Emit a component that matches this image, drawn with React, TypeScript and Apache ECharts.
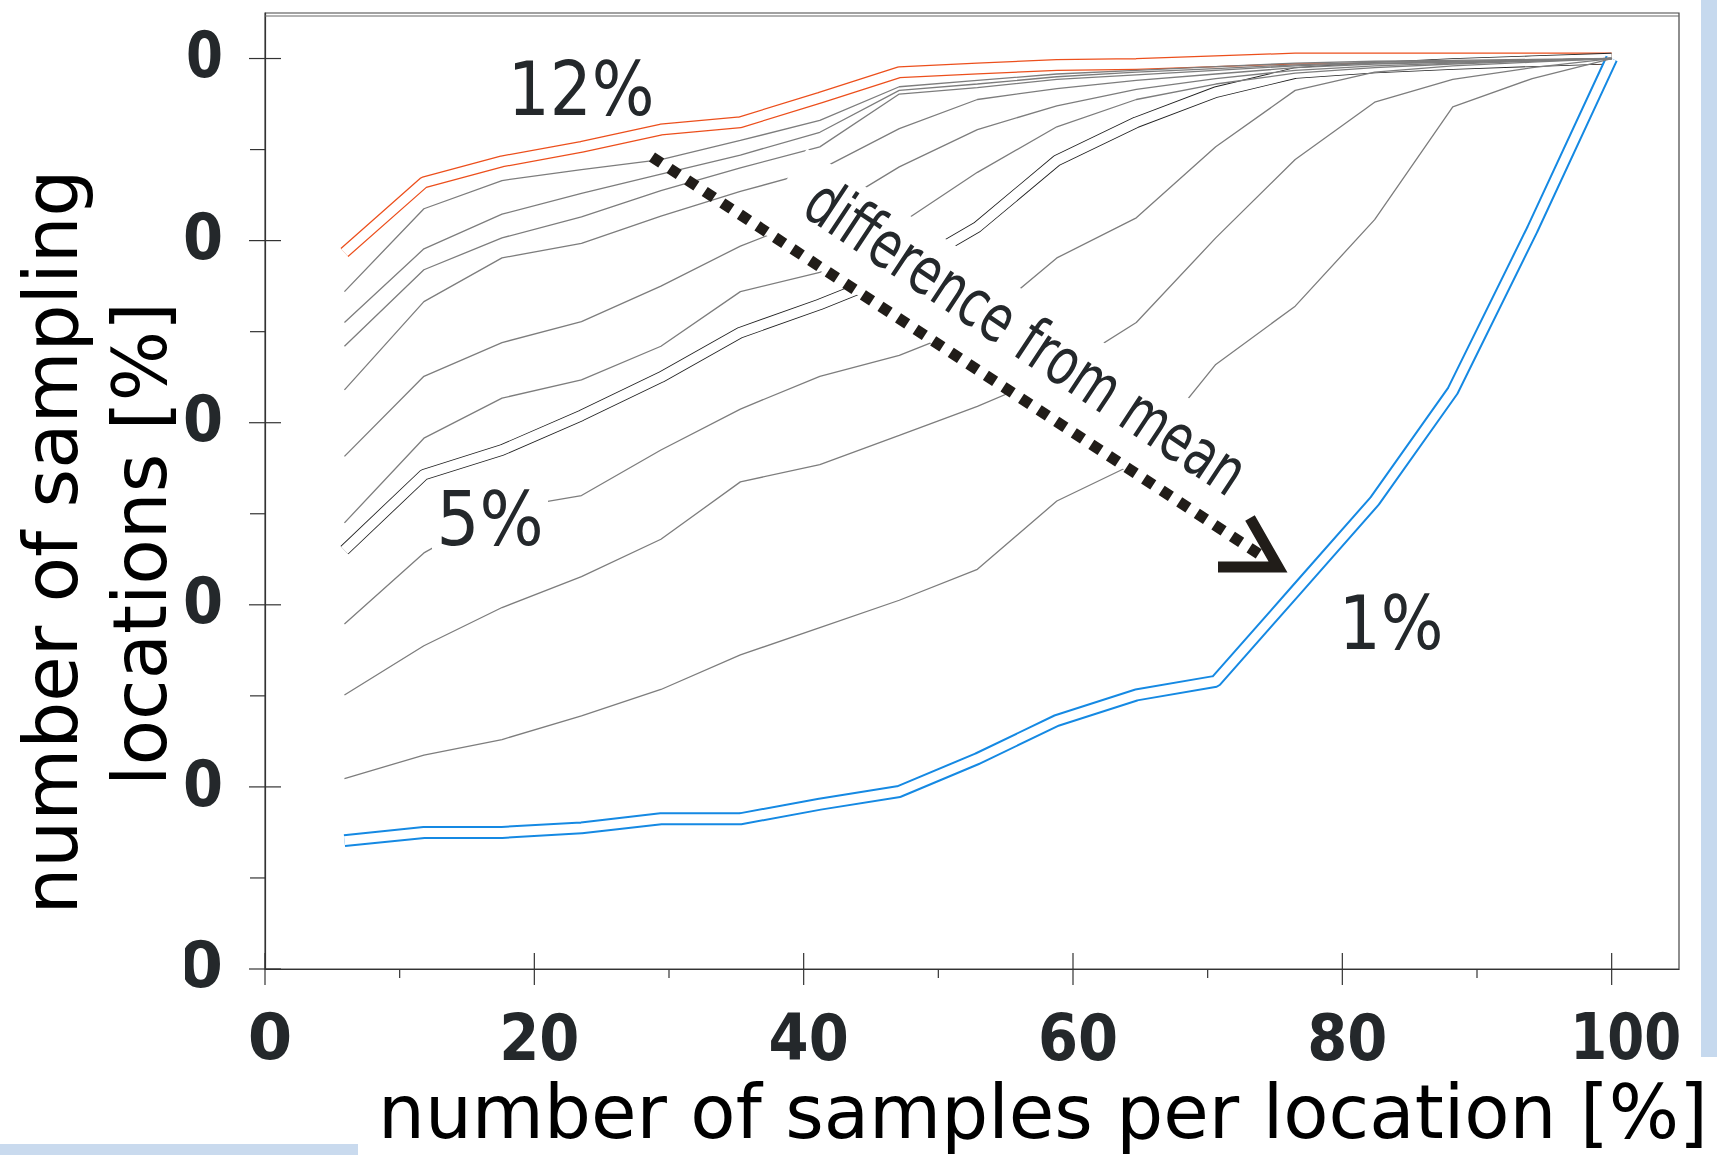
import React, { useEffect, useRef } from 'react';
import * as echarts from 'echarts';

// x: number of samples per location [%]
const sampleShare = [5.9, 11.8, 17.6, 23.5, 29.4, 35.3, 41.2, 47.1, 52.9, 58.8, 64.7, 70.6, 76.5, 82.4, 88.2, 94.1, 100];

// y: number of sampling locations [%], one curve per difference from mean
const curve12 = [78.7, 86.4, 88.7, 90.3, 92.2, 93.0, 95.7, 98.5, 98.9, 99.3, 99.4, 99.7, 100, 100, 100, 100, 100];
const curve11 = [74.4, 83.5, 86.6, 87.8, 88.9, 91.0, 93.2, 96.9, 97.6, 98.3, 98.7, 99.1, 99.5, 99.7, 99.8, 99.9, 100];
const curve10 = [71.0, 79.1, 82.9, 85.2, 87.3, 89.4, 91.9, 96.5, 97.2, 98.0, 98.5, 98.9, 99.3, 99.6, 99.7, 99.8, 100];
const curve9 = [68.4, 76.8, 80.3, 82.6, 85.5, 88.0, 90.3, 96.1, 96.8, 97.7, 98.2, 98.7, 99.2, 99.5, 99.6, 99.8, 100];
const curve8 = [63.6, 73.3, 78.1, 79.7, 82.7, 85.4, 87.8, 92.3, 95.5, 96.7, 97.6, 98.3, 99.0, 99.4, 99.6, 99.8, 100];
const curve7 = [56.3, 65.1, 68.8, 71.1, 75.0, 79.4, 82.8, 88.1, 92.2, 94.8, 96.6, 97.8, 98.7, 99.2, 99.5, 99.8, 100];
const curve6 = [49.0, 58.3, 62.7, 64.7, 68.4, 74.4, 76.5, 81.8, 87.5, 92.5, 95.5, 97.2, 98.4, 99.0, 99.4, 99.7, 100];
const curve5 = [46.0, 54.3, 57.0, 60.8, 65.0, 69.9, 73.0, 76.5, 81.5, 88.8, 93.0, 96.3, 98.4, 99.0, 99.4, 99.7, 100];
const curve4 = [37.9, 45.7, 50.5, 52.0, 57.0, 61.5, 65.1, 67.4, 70.8, 78.1, 82.5, 90.3, 96.5, 98.5, 99.2, 99.6, 100];
const curve3 = [30.1, 35.5, 39.7, 43.1, 47.2, 53.5, 55.4, 58.6, 61.8, 65.5, 71.0, 80.3, 88.9, 95.2, 97.7, 99.0, 100];
const curve2 = [20.9, 23.5, 25.2, 27.8, 30.7, 34.5, 37.5, 40.5, 43.9, 51.4, 55.6, 66.4, 72.8, 82.3, 94.7, 97.8, 100];
const curve1 = [14.1, 15.0, 15.0, 15.5, 16.5, 16.5, 18.1, 19.5, 23.1, 27.3, 30.1, 31.6, 41.5, 51.4, 63.5, 81.2, 100];

const grayCurves = [curve11, curve10, curve9, curve8, curve7, curve6, curve4, curve3, curve2];

const xTickValues = [0, 20, 40, 60, 80, 100];
const xMinorValues = [10, 30, 50, 70, 90];
const yTickValues = [0, 20, 40, 60, 80, 100];
const yMinorValues = [10, 30, 50, 70, 90];

const xTitle = 'number of samples per location [%]';
const yTitleLines = ['number of sampling', 'locations [%]'];
const curveLabels = ['12%', '5%', '1%'];
const arrowLabel = 'difference from mean';

const ORANGE = '#ec4f1c';
const BLUE = '#1589e3';
const GRAY = '#7d7d7d';
const INK = '#24282b';
const AXIS = '#333333';

export default function App() {
  const ref = useRef<HTMLDivElement>(null);

  useEffect(() => {
    document.body.style.margin = '0';
    const chart = echarts.init(ref.current as HTMLDivElement, null, { renderer: 'svg' });
    const toPairs = (ys: number[]) => sampleShare.map((x, i) => [x, ys[i]]);

    const series: any[] = [];
    const ribbon = (name: string, ys: number[], color: string, outer: number, inner: number) => {
      series.push({
        type: 'line', name: name + ' edge', data: toPairs(ys), symbol: 'none', silent: true, z: 2,
        lineStyle: { color, width: outer }, emphasis: { disabled: true },
      });
      series.push({
        type: 'line', name: name + ' fill', data: toPairs(ys), symbol: 'none', silent: true, z: 2,
        lineStyle: { color: '#ffffff', width: inner }, emphasis: { disabled: true },
      });
    };
    ribbon('12%', curve12, ORANGE, 12, 9.5);
    ribbon('5%', curve5, '#222222', 11.5, 9.8);
    ribbon('1%', curve1, BLUE, 13, 9);
    grayCurves.forEach((ys, i) => {
      series.push({
        type: 'line', name: 'gray' + i, data: toPairs(ys), symbol: 'none', silent: true, z: 3,
        lineStyle: { color: GRAY, width: 1.3 }, emphasis: { disabled: true },
      });
    });

    // axis ticks and tick labels, placed through the axis scales
    const decor: number[][] = [];
    xTickValues.forEach((v) => decor.push([v, 0, 0]));
    xMinorValues.forEach((v) => decor.push([v, 0, 1]));
    yTickValues.forEach((v) => decor.push([v, 1, 0]));
    yMinorValues.forEach((v) => decor.push([v, 1, 1]));

    const squeeze = (n: number) => (n === 1 ? 1 : n === 2 ? 0.9 : 0.83);
    const labelStyle = (t: string, align: string) => ({
      text: t, fontSize: 64, fontWeight: 'bold', fontFamily: 'DejaVu Sans', fill: INK,
      align, verticalAlign: 'middle',
    });

    series.push({
      type: 'custom', name: 'axes', silent: true, clip: false, z: 4,
      data: decor,
      renderItem: (params: any, api: any) => {
        const v = api.value(0);
        const axis = api.value(1);
        const kind = api.value(2);
        const children: any[] = [];
        const tickStyle = { stroke: AXIS, lineWidth: 1.2 };
        const s = String(v);
        if (axis === 0) {
          const p = api.coord([v, 0]);
          if (kind === 0) {
            children.push({ type: 'line', shape: { x1: p[0], y1: p[1] - 16, x2: p[0], y2: p[1] + 16 }, style: tickStyle });
            children.push({
              type: 'text', x: p[0] + (s.length === 3 ? 14 : 5), y: p[1] + 68, scaleX: squeeze(s.length),
              style: labelStyle(s, 'center'),
            });
          } else {
            children.push({ type: 'line', shape: { x1: p[0], y1: p[1], x2: p[0], y2: p[1] + 9 }, style: tickStyle });
          }
        } else {
          const p = api.coord([0, v]);
          if (kind === 0) {
            children.push({ type: 'line', shape: { x1: p[0] - 16, y1: p[1], x2: p[0] + 16, y2: p[1] }, style: tickStyle });
            children.push({
              type: 'text', x: p[0] - 42, y: p[1] - 4, scaleX: squeeze(s.length),
              style: labelStyle(s, 'right'),
            });
          } else {
            children.push({ type: 'line', shape: { x1: p[0] - 15, y1: p[1], x2: p[0], y2: p[1] }, style: tickStyle });
          }
        }
        return { type: 'group', children };
      },
    });

    // annotation geometry (pixels)
    const S = [652, 157];
    const E = [1262, 556];
    const len = Math.hypot(E[0] - S[0], E[1] - S[1]);
    const u = [(E[0] - S[0]) / len, (E[1] - S[1]) / len];
    const nrm = [u[1], -u[0]];
    const pt = (a: number, p: number) => [S[0] + a * u[0] + p * nrm[0], S[1] + a * u[1] + p * nrm[1]];

    const graphic: any[] = [
      // white band between the arrow and its label
      { type: 'polygon', z: 10, silent: true, shape: { points: [pt(125, -3), pt(125, 92), pt(700, 92), pt(700, -3)] }, style: { fill: '#ffffff' } },
      // white box behind the 5% label
      { type: 'rect', z: 10, silent: true, shape: { x: 432, y: 486, width: 116, height: 66 }, style: { fill: '#ffffff' } },
      // dotted arrow
      { type: 'line', z: 11, silent: true, shape: { x1: S[0], y1: S[1], x2: E[0], y2: E[1] }, style: { stroke: '#211d19', lineWidth: 11, lineDash: [11, 10] } },
      { type: 'polyline', z: 11, silent: true, shape: { points: [[1218, 567], [1278, 567], [1250, 518]] }, style: { stroke: '#211d19', lineWidth: 11, fill: null, lineJoin: 'miter' } },
      { type: 'text', z: 11, silent: true, x: 1026, y: 337, rotation: -0.585, scaleX: 0.72, style: { text: arrowLabel, fontSize: 66, fontFamily: 'DejaVu Sans', fill: INK, align: 'center', verticalAlign: 'middle' } },
      { type: 'text', z: 11, silent: true, x: 581, y: 89, scaleX: 0.88, style: { text: curveLabels[0], fontSize: 75, fontFamily: 'DejaVu Sans', fill: INK, align: 'center', verticalAlign: 'middle' } },
      { type: 'text', z: 11, silent: true, x: 490, y: 519, scaleX: 0.9, style: { text: curveLabels[1], fontSize: 75, fontFamily: 'DejaVu Sans', fill: INK, align: 'center', verticalAlign: 'middle' } },
      { type: 'text', z: 11, silent: true, x: 1391, y: 623, scaleX: 0.88, style: { text: curveLabels[2], fontSize: 75, fontFamily: 'DejaVu Sans', fill: INK, align: 'center', verticalAlign: 'middle' } },
      // second top frame line
      { type: 'line', z: 5, silent: true, shape: { x1: 265, y1: 16, x2: 1679, y2: 16 }, style: { stroke: '#666666', lineWidth: 1 } },
      // white area left of the y tick labels (covers their leading digits)
      { type: 'rect', z: 20, silent: true, shape: { x: 0, y: 0, width: 185, height: 1000 }, style: { fill: '#ffffff' } },
      // axis titles
      { type: 'text', z: 21, silent: true, x: 51, y: 542, rotation: Math.PI / 2, style: { text: yTitleLines[0], fontSize: 74, fontFamily: 'DejaVu Sans', fill: '#000000', align: 'center', verticalAlign: 'middle' } },
      { type: 'text', z: 21, silent: true, x: 140, y: 544, rotation: Math.PI / 2, style: { text: yTitleLines[1], fontSize: 74, fontFamily: 'DejaVu Sans', fill: '#000000', align: 'center', verticalAlign: 'middle' } },
      { type: 'text', z: 21, silent: true, x: 1043, y: 1112, style: { text: xTitle, fontSize: 74, fontFamily: 'DejaVu Sans', fill: '#000000', align: 'center', verticalAlign: 'middle' } },
      // light blue strips at the page edges
      { type: 'rect', z: 22, silent: true, shape: { x: 1701, y: 0, width: 16, height: 1057 }, style: { fill: '#c6d9ee' } },
      { type: 'rect', z: 22, silent: true, shape: { x: 0, y: 1144, width: 358, height: 11 }, style: { fill: '#c9daee' } },
    ];

    chart.setOption({
      animation: false,
      backgroundColor: '#ffffff',
      grid: { left: 265, right: 38, top: 13, bottom: 186, show: true, borderColor: '#444444', borderWidth: 1.2, backgroundColor: 'transparent' },
      xAxis: {
        type: 'value', min: 0, max: 105,
        axisLine: { show: true, onZero: false, lineStyle: { color: AXIS, width: 1.2 } },
        axisTick: { show: false }, axisLabel: { show: false }, splitLine: { show: false },
      },
      yAxis: {
        type: 'value', min: 0, max: 105,
        axisLine: { show: true, onZero: false, lineStyle: { color: AXIS, width: 1.2 } },
        axisTick: { show: false }, axisLabel: { show: false }, splitLine: { show: false },
      },
      series,
      graphic,
    });

    return () => chart.dispose();
  }, []);

  return <div ref={ref} style={{ width: 1717, height: 1155 }} />;
}
